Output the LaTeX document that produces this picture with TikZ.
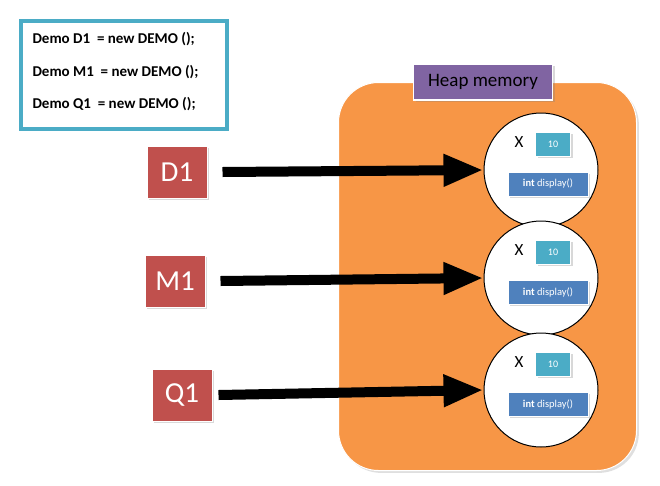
\documentclass[tikz,border=0pt]{standalone}
\usepackage{fontspec}
\setmainfont{Carlito}
\usetikzlibrary{arrows.meta,shadows}
\definecolor{heap}{HTML}{F79646}
\definecolor{purp}{HTML}{8064A2}
\definecolor{redb}{HTML}{C0504D}
\definecolor{aqua}{HTML}{4BACC6}
\definecolor{blu}{HTML}{4F81BD}
\tikzset{
  var/.style={draw=white,line width=1pt,fill=redb,text=white,minimum width=60pt,minimum height=52pt,font=\fontsize{29}{29}\selectfont,drop shadow={opacity=0.3}},
  ptr/.style={line width=10pt,-{Triangle[length=40pt,width=30pt]}},
  obj/.style={circle,draw=black,fill=white,line width=1pt,minimum size=114pt},
  val/.style={draw=white,line width=1pt,fill=aqua,text=white,minimum width=35pt,minimum height=24pt,font=\fontsize{10}{10}\selectfont,drop shadow={opacity=0.3}},
  meth/.style={draw=white,line width=1pt,fill=blu,text=white,minimum width=80pt,minimum height=24pt,font=\fontsize{10.5}{10.5}\selectfont,drop shadow={opacity=0.3}},
  xl/.style={font=\fontsize{17}{17}\selectfont},
  code/.style={anchor=west,font=\bfseries\fontsize{15}{15}\selectfont}
}
\begin{document}
\begin{tikzpicture}[x=1pt,y=-1pt]
\useasboundingbox (0,0) rectangle (660,485);
\node[draw=aqua,line width=4pt,fill=white,minimum width=206pt,minimum height=108pt,anchor=north west,drop shadow={opacity=0.2}] (code) at (19,19) {};
\node[code] (l1) at (29,39) {Demo D1 \ = new DEMO ();};
\node[code] (l2) at (29,72) {Demo M1 \ = new DEMO ();};
\node[code] (l3) at (29,104) {Demo Q1 \ = new DEMO ();};
\node[fill=heap,draw=white,line width=1pt,rounded corners=40pt,minimum width=298pt,minimum height=388pt,anchor=north west,drop shadow={opacity=0.25}] (heap) at (338,82) {};
\node[fill=purp,draw=white,line width=1.5pt,minimum width=139pt,minimum height=36pt,font=\fontsize{19}{19}\selectfont,drop shadow={opacity=0.3}] (hm) at (483,82) {Heap memory};
\foreach \n/\y in {1/170,2/278,3/390}{
  \node[obj] (c\n) at (541,\y) {};
  \node[xl] (x\n) at (519,\y-28) {X};
  \node[val] (v\n) at (553,\y-26) {10};
  \node[meth] (m\n) at (548,\y+14) {\textbf{int} display()};
}
\node[var] (D1) at (177,172) {D1};
\node[var] (M1) at (175,281) {M1};
\node[var] (Q1) at (182,395) {Q1};
\draw[ptr] (D1.east)++(15,0) coordinate (a1) (a1) -- (c1.west);
\draw[ptr] (M1.east)++(15,0) coordinate (a2) (a2) -- (c2.west);
\draw[ptr] (Q1.east)++(6,0) coordinate (a3) (a3) -- (c3.west);
\end{tikzpicture}
\end{document}
